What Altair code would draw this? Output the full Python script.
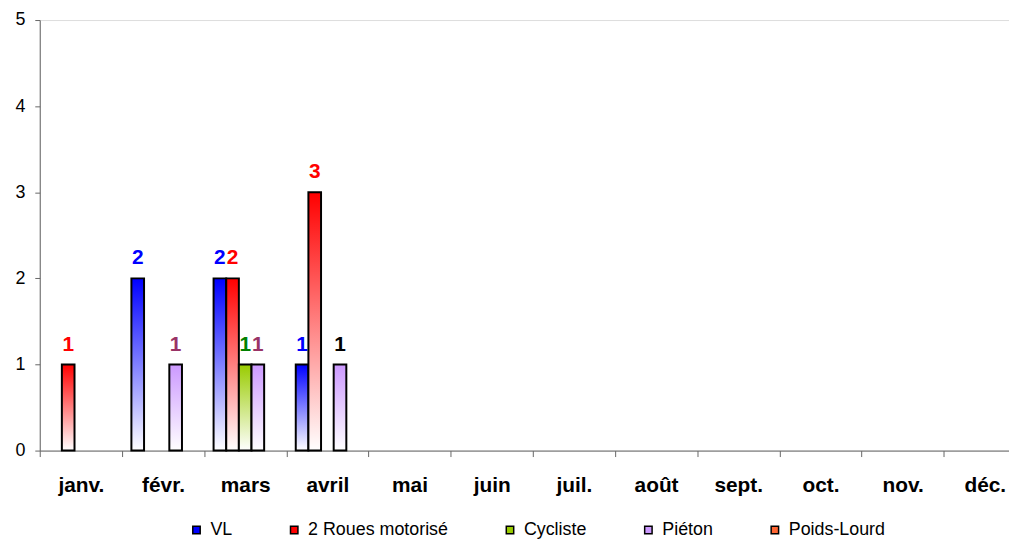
import altair as alt
import pandas as pd

months = ["janv.", "févr.", "mars", "avril", "mai", "juin", "juil.", "août",
          "sept.", "oct.", "nov.", "déc."]
series = ["VL", "2 Roues motorisé", "Cycliste", "Piéton", "Poids-Lourd"]

vl          = [0, 2, 2, 1, 0, 0, 0, 0, 0, 0, 0, 0]
deux_roues  = [1, 0, 2, 3, 0, 0, 0, 0, 0, 0, 0, 0]
cycliste    = [0, 0, 1, 0, 0, 0, 0, 0, 0, 0, 0, 0]
pieton      = [0, 1, 1, 1, 0, 0, 0, 0, 0, 0, 0, 0]
poids_lourd = [0, 0, 0, 0, 0, 0, 0, 0, 0, 0, 0, 0]

bar_colors = ["#0000FF", "#FF0000", "#99CC00", "#CC99FF", "#FF6633"]
label_colors = ["#0000FF", "#FF0000", "#008000", "#993366", "#FF6633"]
label_override = {("avril", "Piéton"): "#000000"}

FONT = "Liberation Sans"
AXIS_COL = "#666666"

rows = []
for i, m in enumerate(months):
    for s, vals, lc in zip(series, [vl, deux_roues, cycliste, pieton, poids_lourd], label_colors):
        v = vals[i]
        if v > 0:
            rows.append({"mois": m, "serie": s, "valeur": v,
                         "lcol": label_override.get((m, s), lc)})
df = pd.DataFrame(rows)
legend_df = pd.DataFrame({"mois": [months[0]] * len(series), "serie": series,
                          "valeur": [0] * len(series)})

x_enc = alt.X("mois:N", sort=months,
              scale=alt.Scale(domain=months, range=[0, 994], paddingInner=0, paddingOuter=0),
              axis=alt.Axis(title=None, labelAngle=0, labelFont=FONT, labelFontSize=21,
                            labelFontWeight="bold", labelColor="black", tickBand="extent",
                            tickSize=6, labelPadding=35, labelBaseline="alphabetic",
                            domainColor=AXIS_COL, tickColor=AXIS_COL, grid=False,
                            labelOverlap=False))
xo_enc = alt.XOffset("serie:N", scale=alt.Scale(domain=series, paddingInner=0, paddingOuter=0.75))
y_enc = alt.Y("valeur:Q", scale=alt.Scale(domain=[0, 5], nice=False),
              axis=alt.Axis(title=None, values=[0, 1, 2, 3, 4, 5], grid=False, tickSize=5,
                            labelPadding=10, labelFont=FONT, labelFontSize=18,
                            labelColor="black", domainColor=AXIS_COL, tickColor=AXIS_COL))

layers = []
# legend-only layer (zero-height bars)
layers.append(
    alt.Chart(legend_df).mark_bar(strokeWidth=0).encode(
        x=x_enc, xOffset=xo_enc, y=y_enc,
        color=alt.Color("serie:N", scale=alt.Scale(domain=series, range=bar_colors),
                        legend=alt.Legend(title=None, orient="none", legendX=149, legendY=505,
                                          direction="horizontal", columns=5, columnPadding=52.5,
                                          symbolType="square", symbolSize=56,
                                          symbolStrokeColor="black", symbolStrokeWidth=1.5,
                                          symbolOpacity=1, labelFont=FONT, labelFontSize=18,
                                          labelColor="black", labelOffset=5, labelLimit=400))
    )
)
for s, c in zip(series, bar_colors):
    grad = alt.Gradient(gradient="linear",
                        stops=[alt.GradientStop(color="#FFFFFF", offset=0),
                               alt.GradientStop(color=c, offset=1)],
                        x1=0, x2=0, y1=1, y2=0)
    layers.append(
        alt.Chart(df).transform_filter(alt.datum.serie == s)
        .mark_bar(fill=grad, stroke="black", strokeWidth=2)
        .encode(x=x_enc, xOffset=xo_enc, y=y_enc)
    )
layers.append(
    alt.Chart(df).mark_text(dy=-14, baseline="alphabetic", font=FONT, fontSize=21,
                            fontWeight="bold")
    .encode(x=x_enc, xOffset=xo_enc, y=y_enc, text=alt.Text("valeur:Q"),
            fill=alt.Fill("lcol:N", scale=None))
)

chart = alt.layer(*layers).resolve_scale(color="independent").properties(
    width=977, height=434,
    autosize=alt.AutoSizeParams(type="none"),
    padding={"left": 32, "top": 10, "right": 0, "bottom": 90},
).configure_view(stroke=None).configure(font=FONT)

chart.save("out.html", embed_options={"renderer": "svg", "actions": False})
